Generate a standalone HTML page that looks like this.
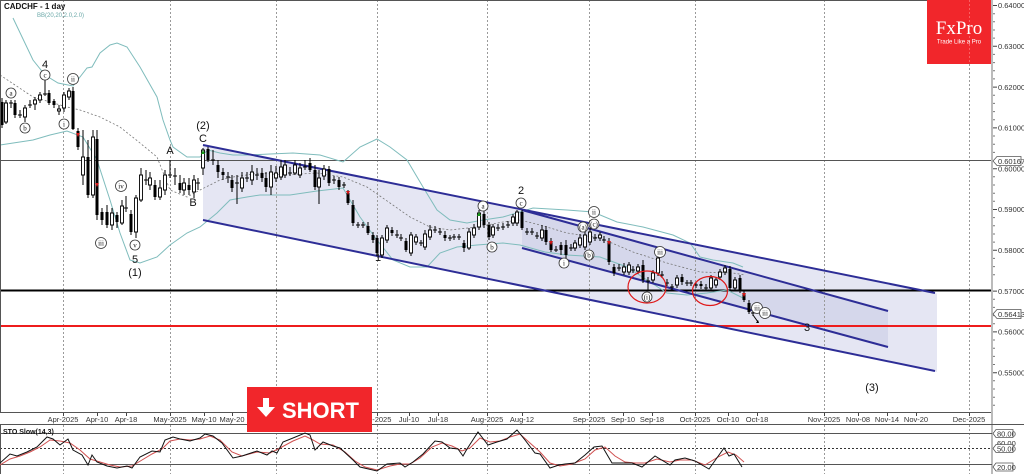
<!DOCTYPE html>
<html><head><meta charset="utf-8"><style>
html,body{margin:0;padding:0;background:#fff;}
svg{display:block;}
.ax{font-family:"Liberation Sans",sans-serif;font-size:7.5px;fill:#333;}
.an{font-family:"Liberation Sans",sans-serif;font-size:11px;fill:#111;text-anchor:middle;}
.ci{font-family:"Liberation Serif",serif;font-size:7px;fill:#111;text-anchor:middle;}
</style></head><body>
<svg width="1024" height="474" viewBox="0 0 1024 474" xmlns="http://www.w3.org/2000/svg">
<rect width="1024" height="474" fill="#fff"/>
<!-- channel fills -->
<polygon points="203,145 937,293.5 937,372 203,220" fill="#e5e6f3"/>
<polygon points="522,210 888,311 888,348 522,248" fill="#c9cae4" opacity="0.55"/>
<!-- vertical grid -->
<g stroke="#9a9a9a" stroke-width="1" stroke-dasharray="2,2">
<path d="M63.5 0V413M170.5 0V413M276.5 0V413M377.5 0V413M487.5 0V413M589.5 0V413M695.5 0V413M824.5 0V413M969.5 0V413"/>
<path d="M63.5 425V474M170.5 425V474M276.5 425V474M377.5 425V474M487.5 425V474M589.5 425V474M695.5 425V474M824.5 425V474M969.5 425V474"/>
</g>
<!-- horizontal lines -->
<line x1="0" y1="160.5" x2="992" y2="160.5" stroke="#555" stroke-width="1"/>
<line x1="0" y1="290.5" x2="992" y2="290.5" stroke="#000" stroke-width="2"/>
<line x1="0" y1="326" x2="992" y2="326" stroke="#ee1c1c" stroke-width="2"/>
<!-- bollinger -->
<g fill="none" stroke="#7fbcbc" stroke-width="1">
<polyline points="13,18 33,60 45,75 58,83 73,86 87,68 92,67 100,53 110,45 117,43 127,47 140,67 157,97 163,120 170,140 173,147 187,157 200,157 208,150 220,153 233,155 250,155 270,154 293,153 320,155 343,162 360,147 377,139 390,147 407,160 423,187 437,210 450,220 467,223 483,220 503,217 520,212 533,208 567,210 593,212 617,222 643,227 673,235 690,243 700,257 713,260 733,263 743,267"/>
<polyline points="0,145 33,140 50,135 67,131 83,137 97,160 110,200 120,233 130,260 140,263 157,257 170,245 187,233 200,227 217,213 230,200 247,197 260,195 290,195 317,191 343,188 360,217 377,240 393,260 410,267 427,267 440,253 457,247 477,245 503,243 520,245 545,252 567,255 600,257 627,267 647,280 667,293 687,295 707,293 727,290 743,298"/>
</g>
<polyline fill="none" stroke="#777" stroke-width="0.8" stroke-dasharray="2,2" points="0,75 33,97 67,107 80,110 100,117 120,127 140,143 157,157 170,190 187,197 200,190 220,180 233,177 260,173 283,175 317,173 343,177 367,187 390,203 410,217 430,227 450,230 477,227 503,222 520,220 540,225 567,233 600,238 633,252 667,263 700,272 733,273 745,275"/>
<!-- channel lines -->
<g stroke="#2d2d96" stroke-width="2" fill="none">
<line x1="203" y1="145" x2="935" y2="293"/>
<line x1="203" y1="220" x2="935" y2="371"/>
<line x1="522" y1="210" x2="888" y2="311"/>
<line x1="522" y1="248" x2="888" y2="347"/>
</g>
<!-- candles -->
<path fill="none" stroke="#000" stroke-width="1" d="M2 98V128M6 100V124M11 100V108M15 100V118M20 110V118M25 105V122M30 100V108M35 97V110M40 92V103M45 80V96M49 90V105M54 99V108M59 105V115M64 92V112M69 88V100M73 87V130M78 128V150M83 130V185M88 140V198M93 130V198M97 130V220M102 208V225M107 205V228M112 208V230M117 212V228M122 200V225M126 196V212M131 210V235M136 195V238M141 168V202M146 170V185M150 172V190M155 180V200M160 180V200M165 170V195M170 160V178M175 168V185M180 175V193M184 178V195M189 178V195M194 175V198M198 178V190M203 148V175M208 147V162M213 150V165M218 160V178M223 168V180M228 172V183M232 175V192M237 175V204M242 172V192M247 172V182M252 165V185M257 168V180M262 168V182M266 172V192M271 165V195M276 166V182M281 160V180M285 160V178M290 167V176M295 160V175M300 163V178M305 160V170M310 158V172M315 165V190M319 170V204M324 165V180M329 166V186M334 176V184M339 177V190M344 182V188M348 190V205M353 200V226M358 222V228M363 222V228M368 222V235M373 232V243M377 235V256M382 235V258M387 225V243M392 227V236M397 230V238M401 234V241M406 238V252M411 232V256M416 234V245M421 240V246M425 230V250M430 225V240M435 226V233M440 228V235M445 231V241M450 235V241M454 234V240M459 234V240M464 240V252M469 228V250M474 224V238M479 210V230M484 210V228M489 222V240M493 224V238M498 224V231M503 223V230M508 221V228M513 214V226M517 210V226M522 210V230M527 228V235M532 228V235M537 232V239M542 225V241M546 226V245M551 238V252M556 246V252M561 242V255M566 240V258M571 244V251M575 240V251M580 234V248M585 230V250M590 228V245M595 234V241M600 232V241M604 236V243M609 238V265M614 264V276M619 264V271M624 263V275M629 262V275M633 266V273M638 264V274M643 260V283M648 277V290M653 270V283M658 254V276M662 271V278M667 279V286M672 284V290M677 275V288M682 274V285M687 280V286M691 280V286M696 282V288M701 281V289M706 284V291M711 275V291M716 277V288M720 269V280M725 265V275M730 266V291M735 277V291M740 275V293M744 290V302M749 300V314M753 310V316"/>
<path fill="none" stroke="#000" stroke-width="1" d="M9 103h4M18 115h4M28 105h4M43 94h4M124 208h4M144 180h4M168 175h4M173 176h4M196 183h4M211 160h4M226 177h4M235 183h4M245 178h4M255 175h4M288 173h4M303 167h4M332 180h4M342 185h4M356 225h4M361 225h4M395 235h4M399 238h4M419 243h4M433 230h4M438 232h4M448 238h4M452 237h4M457 237h4M496 228h4M501 227h4M506 225h4M525 232h4M530 232h4M535 236h4M554 250h4M569 248h4M593 238h4M602 240h4M617 268h4M631 270h4M646 281h4M660 275h4M665 283h4M670 287h4M685 283h4M689 283h4M694 285h4M704 288h4M751 313h4"/>
<path fill="#000" d="M0.5 102h3v23h-3zM13.5 103h3v12h-3zM47.5 93h3v10h-3zM52.5 101h3v4h-3zM71.5 91h3v38h-3zM76.5 131h3v16h-3zM86.5 157h3v38h-3zM95.5 139h3v76h-3zM100.5 212h3v8h-3zM105.5 212h3v13h-3zM115.5 215h3v7h-3zM129.5 214h3v18h-3zM153.5 185h3v12h-3zM178.5 183h3v7h-3zM187.5 185h3v5h-3zM206.5 149h3v11h-3zM216.5 165h3v7h-3zM221.5 172h3v3h-3zM230.5 180h3v8h-3zM260.5 173h3v5h-3zM264.5 178h3v9h-3zM308.5 163h3v7h-3zM313.5 170h3v17h-3zM327.5 169h3v14h-3zM337.5 180h3v7h-3zM346.5 193h3v10h-3zM351.5 205h3v18h-3zM366.5 226h3v7h-3zM371.5 235h3v5h-3zM375.5 238h3v15h-3zM390.5 230h3v3h-3zM404.5 241h3v9h-3zM443.5 235h3v3h-3zM462.5 243h3v5h-3zM482.5 214h3v11h-3zM487.5 225h3v12h-3zM520.5 212h3v16h-3zM544.5 230h3v12h-3zM549.5 242h3v8h-3zM559.5 245h3v5h-3zM564.5 245h3v10h-3zM607.5 242h3v20h-3zM612.5 267h3v6h-3zM641.5 265h3v15h-3zM680.5 277h3v5h-3zM699.5 284h3v2h-3zM728.5 269h3v19h-3zM738.5 278h3v12h-3zM742.5 293h3v7h-3zM747.5 303h3v9h-3z"/>
<path fill="#fff" stroke="#000" stroke-width="0.9" d="M4.5 103h3v19h-3zM23.5 108h3v9h-3zM33.5 100h3v4h-3zM38.5 95h3v5h-3zM57.5 109h3v2h-3zM62.5 95h3v13h-3zM67.5 91h3v6h-3zM81.5 157h3v18h-3zM91.5 137h3v58h-3zM110.5 213h3v12h-3zM120.5 206h3v17h-3zM134.5 198h3v34h-3zM139.5 175h3v25h-3zM148.5 178h3v7h-3zM158.5 188h3v9h-3zM163.5 175h3v15h-3zM182.5 183h3v7h-3zM192.5 180h3v12h-3zM201.5 150h3v18h-3zM240.5 178h3v10h-3zM250.5 172h3v8h-3zM269.5 172h3v15h-3zM274.5 173h3v5h-3zM279.5 167h3v10h-3zM283.5 165h3v10h-3zM293.5 165h3v8h-3zM298.5 168h3v7h-3zM317.5 178h3v9h-3zM322.5 169h3v7h-3zM380.5 238h3v17h-3zM385.5 228h3v12h-3zM409.5 235h3v18h-3zM414.5 237h3v5h-3zM423.5 234h3v13h-3zM428.5 230h3v7h-3zM467.5 232h3v16h-3zM472.5 228h3v7h-3zM477.5 213h3v14h-3zM491.5 227h3v8h-3zM511.5 217h3v6h-3zM515.5 212h3v11h-3zM540.5 230h3v8h-3zM573.5 243h3v5h-3zM578.5 238h3v7h-3zM583.5 235h3v12h-3zM588.5 232h3v10h-3zM598.5 235h3v3h-3zM622.5 267h3v5h-3zM627.5 265h3v7h-3zM636.5 267h3v4h-3zM651.5 273h3v7h-3zM656.5 258h3v15h-3zM675.5 278h3v7h-3zM709.5 278h3v10h-3zM714.5 280h3v5h-3zM718.5 272h3v5h-3zM723.5 268h3v4h-3zM733.5 280h3v8h-3z"/>
<!-- markers -->
<g fill="#d01818">
<path d="M76 133h4l-2 4z"/><path d="M95 183h4l-2 4z"/><path d="M346 191h4l-2 4z"/><path d="M549 241h4l-2 4z"/><path d="M607 241h4l-2 4z"/><path d="M742 293h4l-2 4z"/>
</g>
<path d="M201 154l2-4 2 4z" fill="#1a9a1a"/><path d="M477 216l2-4 2 4z" fill="#1a9a1a"/>
<path d="M753 315L758 322" stroke="#000" stroke-width="1"/><path d="M756 323l3 0-1-3z" fill="#000"/>
<!-- ellipses -->
<g fill="none" stroke="#e01818" stroke-width="1.2">
<ellipse cx="647" cy="287" rx="19" ry="16"/>
<ellipse cx="710" cy="291" rx="17.5" ry="14.5"/>
</g>
<!-- wave circles -->
<g fill="#fff" stroke="#333" stroke-width="0.8">
<circle cx="45" cy="75" r="5"/><circle cx="11" cy="93" r="5"/><circle cx="25" cy="128" r="5"/><circle cx="64" cy="124" r="5"/><circle cx="73" cy="79" r="5.5"/>
<circle cx="101" cy="243" r="5.5"/><circle cx="121" cy="186" r="5.5"/><circle cx="135" cy="245" r="5"/>
<circle cx="483" cy="206" r="5"/><circle cx="492" cy="247" r="5"/><circle cx="521" cy="203" r="5"/><circle cx="564" cy="263" r="5"/>
<circle cx="583" cy="227" r="5"/><circle cx="594" cy="224" r="5"/><circle cx="594" cy="212" r="5.5"/><circle cx="589" cy="255" r="5"/>
<circle cx="660" cy="252" r="5.5"/><circle cx="647" cy="297" r="5"/><circle cx="757" cy="308" r="5.5"/><circle cx="765" cy="313" r="5.5"/>
</g>
<g class="ci">
<text x="45" y="77.5">c</text><text x="11" y="95.5">a</text><text x="25" y="130.5">b</text><text x="64" y="126.5">i</text><text x="73" y="81.5">ii</text>
<text x="101" y="245.5">iii</text><text x="121" y="188.5">iv</text><text x="135" y="247.5">v</text>
<text x="483" y="208.5">a</text><text x="492" y="249.5">b</text><text x="521" y="205.5">c</text><text x="564" y="265.5">i</text>
<text x="583" y="229.5">(a)</text><text x="594" y="226.5">(c)</text><text x="594" y="214.5">ii</text><text x="589" y="257.5">(b)</text>
<text x="660" y="254.5">iii</text><text x="647" y="299.5">(i)</text><text x="757" y="310.5">iii</text><text x="765" y="315.5">iii</text>
</g>
<g class="an">
<text x="45" y="68">4</text><text x="135" y="263">5</text><text x="135" y="276">(1)</text><text x="170" y="154">A</text><text x="193" y="206">B</text>
<text x="203" y="129">(2)</text><text x="203" y="142">C</text><text x="378" y="261">1</text><text x="521" y="194">2</text><text x="807" y="331">3</text><text x="872" y="391">(3)</text>
</g>
<!-- title -->
<text x="4" y="9" font-family="Liberation Sans,sans-serif" font-size="8" font-weight="bold" fill="#111">CADCHF - 1 day</text>
<text x="37" y="17" font-family="Liberation Sans,sans-serif" font-size="6" fill="#6aa8a8">BB(20,20,2.0,2.0)</text>
<!-- frame -->
<rect x="0.5" y="0.5" width="992" height="412" fill="none" stroke="#555" stroke-width="1"/>
<line x1="992" y1="0" x2="992" y2="474" stroke="#bbb" stroke-width="2"/>
<!-- right axis -->
<path stroke="#444" stroke-width="1" d="M993 5.5h4M993 46.3h4M993 87.1h4M993 127.9h4M993 168.7h4M993 209.5h4M993 250.3h4M993 291.1h4M993 331.9h4M993 372.7h4"/>
<path stroke="#777" stroke-width="1" d="M993 13.7h2M993 21.8h2M993 30h2M993 38.1h2M993 54.4h2M993 62.6h2M993 70.8h2M993 78.9h2M993 95.2h2M993 103.4h2M993 111.6h2M993 119.7h2M993 136h2M993 144.2h2M993 152.4h2M993 176.8h2M993 185h2M993 193.2h2M993 201.3h2M993 217.6h2M993 225.8h2M993 234h2M993 242.1h2M993 258.4h2M993 266.6h2M993 274.8h2M993 299.2h2M993 307.4h2M993 315.6h2M993 323.7h2M993 340h2M993 348.2h2M993 356.4h2M993 364.5h2M993 380.8h2M993 389h2M993 397.2h2M993 405.3h2"/>
<g class="ax">
<text x="998" y="8">0.64000</text><text x="998" y="49">0.63000</text><text x="998" y="90">0.62000</text><text x="998" y="130.5">0.61000</text><text x="998" y="171.5">0.60000</text>
<text x="998" y="212">0.59000</text><text x="998" y="253">0.58000</text><text x="998" y="294">0.57000</text><text x="998" y="334.5">0.56000</text><text x="998" y="375.5">0.55000</text>
</g>
<path d="M993 161l4-4.5h24v9h-24z" fill="#fff" stroke="#555" stroke-width="0.8"/>
<text x="998" y="164" class="ax">0.60167</text>
<path d="M993 314l4-4.5h24v9h-24z" fill="#fff" stroke="#555" stroke-width="0.8"/>
<text x="998" y="317" class="ax">0.56413</text>
<!-- date axis -->
<line x1="0" y1="424.5" x2="1024" y2="424.5" stroke="#555"/>
<path stroke="#444" d="M63.5 413v3M97.5 413v3M126.5 413v3M170.5 413v3M204.5 413v3M232.5 413v3M276.5 413v3M310.5 413v3M339.5 413v3M377.5 413v3M409.5 413v3M438.5 413v3M487.5 413v3M522.5 413v3M589.5 413v3M623.5 413v3M652.5 413v3M695.5 413v3M728.5 413v3M757.5 413v3M824.5 413v3M858.5 413v3M887.5 413v3M916.5 413v3M969.5 413v3"/>
<g class="ax" text-anchor="middle">
<text x="63" y="422">Apr-2025</text><text x="97" y="422">Apr-10</text><text x="126" y="422">Apr-18</text><text x="170" y="422">May-2025</text><text x="204" y="422">May-10</text><text x="232" y="422">May-20</text>
<text x="377" y="422">Jul-2025</text><text x="409" y="422">Jul-10</text><text x="438" y="422">Jul-18</text><text x="487" y="422">Aug-2025</text><text x="522" y="422">Aug-12</text>
<text x="589" y="422">Sep-2025</text><text x="623" y="422">Sep-10</text><text x="652" y="422">Sep-18</text><text x="695" y="422">Oct-2025</text><text x="728" y="422">Oct-10</text><text x="757" y="422">Oct-18</text>
<text x="824" y="422">Nov-2025</text><text x="858" y="422">Nov-08</text><text x="887" y="422">Nov-14</text><text x="916" y="422">Nov-20</text><text x="969" y="422">Dec-2025</text>
</g>
<!-- stochastic -->
<line x1="0" y1="433.5" x2="992" y2="433.5" stroke="#555"/>
<line x1="0" y1="448.5" x2="992" y2="448.5" stroke="#333" stroke-dasharray="2,2"/>
<line x1="0" y1="464.5" x2="992" y2="464.5" stroke="#555"/>
<line x1="0.5" y1="425" x2="0.5" y2="474" stroke="#555"/>
<polyline fill="none" stroke="#d05050" stroke-width="1" points="0,465 10,459 20,456 30,452 40,447 50,440 60,441 70,443 80,450 90,459 100,462 110,465 120,467 132,466 142,460 152,454 162,449 170,441 180,439 190,440 200,439 210,436 220,440 232,452 242,456 257,452 270,453 280,448 293,441 305,436 313,440 320,444 333,445 345,452 355,461 365,467 377,470 390,466 400,464 410,464 420,458 432,447 442,443 452,446 462,451 470,448 480,438 490,442 500,441 510,437 520,434 530,443 540,452 550,463 560,466 572,464 585,459 595,450 605,447 615,456 625,462 635,463 645,463 657,459 670,462 680,460 692,460 705,465 718,457 728,452 736,455 744,462"/>
<polyline fill="none" stroke="#111" stroke-width="1" points="0,463 10,454 17,456 27,452 37,447 47,437 53,439 60,445 68,439 73,450 82,455 88,465 92,455 97,462 107,466 117,468 127,466 132,468 140,457 152,451 160,452 165,440 173,437 180,439 190,441 200,438 205,434 213,436 222,443 233,458 242,456 257,451 267,455 272,451 277,453 283,442 293,438 305,433 310,435 315,450 323,442 333,446 340,448 353,460 360,467 377,471 387,464 400,463 405,467 413,462 423,454 435,441 442,442 450,448 458,449 463,456 467,449 478,432 488,445 497,442 507,439 517,430 525,440 535,453 540,454 550,468 559,465 565,464 575,463 585,455 594,447 602,446 612,463 622,463 632,463 642,467 655,456 670,465 675,460 685,458 695,461 709,469 724,448 729,456 734,454 742,467"/>
<text x="3" y="434" font-family="Liberation Sans,sans-serif" font-size="7" font-weight="bold" fill="#111">STO Slow(14,3)</text>
<path d="M993 433.5l3-4h17v8h-17z" fill="#fff" stroke="#555" stroke-width="0.8"/>
<text x="997" y="436.5" class="ax">80.00</text>
<text x="997" y="446" class="ax">60.00</text>
<path d="M993 448.5l3-4h17v8h-17z" fill="#fff" stroke="#555" stroke-width="0.8"/>
<text x="997" y="451.5" class="ax">50.00</text>
<path d="M993 467l3-4h17v8h-17z" fill="#fff" stroke="#555" stroke-width="0.8"/>
<text x="997" y="470" class="ax">20.00</text>
<!-- logo -->
<rect x="927" y="0" width="64" height="64" fill="#f1262b"/>
<line x1="969.5" y1="0" x2="969.5" y2="64" stroke="#f88" stroke-width="0.6" stroke-dasharray="2,2"/>
<text x="959" y="34" text-anchor="middle" font-family="Liberation Serif,serif" font-size="19" fill="#fff">FxPro</text>
<text x="959" y="43.5" text-anchor="middle" font-family="Liberation Sans,sans-serif" font-size="6" fill="#fff">Trade Like a Pro</text>
<!-- SHORT button -->
<rect x="247" y="387" width="125" height="45" fill="#f1262b"/>
<path d="M263 398h6v9h6l-9 10-9-10h6z" fill="#fff"/>
<text x="282" y="418" font-family="Liberation Sans,sans-serif" font-size="22" font-weight="bold" fill="#fff">SHORT</text>
</svg>
</body></html>
